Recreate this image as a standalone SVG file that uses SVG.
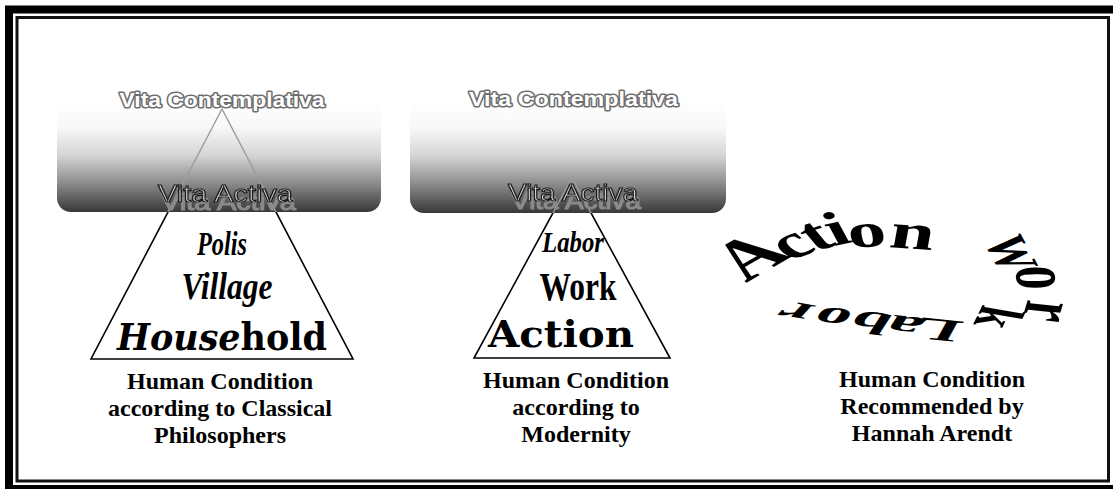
<svg xmlns="http://www.w3.org/2000/svg" width="1113" height="489" viewBox="0 0 1113 489">
<style>
.cap{font-family:"Liberation Serif","Times New Roman",serif;font-weight:bold;font-size:24px;fill:#000;text-anchor:middle}
.vc{font-family:"Liberation Sans",Arial,sans-serif;font-weight:bold;font-size:21px;fill:#fff;stroke:#6e6e6e;stroke-width:3;paint-order:stroke;stroke-linejoin:round;text-anchor:middle}
.va{font-family:"Liberation Sans",Arial,sans-serif;font-size:24px;fill:#dcdcdc;stroke:#1e1e1e;stroke-width:1.2;text-anchor:middle;filter:url(#sh)}
.tri{fill:none;stroke:#000;stroke-width:1.6;stroke-linejoin:miter}
.triin{fill:none;stroke:#9c9c9c;stroke-width:1.4}
.cond{font-family:"Liberation Serif","Times New Roman",serif;font-weight:bold;fill:#000;text-anchor:middle}
.wide{font-family:"DejaVu Serif",serif;font-weight:bold;fill:#000;text-anchor:middle}
.circ{font-family:"Liberation Serif","Times New Roman",serif;font-weight:bold;fill:#000}
.box{fill:url(#shade)}
</style>
<defs>
<linearGradient id="shade" x1="0" y1="0" x2="0" y2="1">
<stop offset="0" stop-color="#ffffff"/>
<stop offset="0.25" stop-color="#f8f8f8"/>
<stop offset="0.5" stop-color="#d4d4d4"/>
<stop offset="0.75" stop-color="#8a8a8a"/>
<stop offset="1" stop-color="#383838"/>
</linearGradient>
<filter id="sh" x="-10%" y="-30%" width="130%" height="200%">
<feOffset in="SourceAlpha" dx="3" dy="8" result="o"/>
<feFlood flood-color="#8a8a8a"/>
<feComposite in2="o" operator="in" result="s"/>
<feMerge><feMergeNode in="s"/><feMergeNode in="SourceGraphic"/></feMerge>
</filter>
<clipPath id="clipL"><rect x="57" y="99" width="324" height="113" rx="14"/></clipPath>
<clipPath id="clipM"><rect x="410" y="99" width="316" height="114" rx="14"/></clipPath>
</defs>
<rect width="1113" height="489" fill="#fff"/>
<g id="frame">
<rect x="9" y="9.5" width="1108" height="479.5" fill="none" stroke="#000" stroke-width="8"/>
<rect x="17" y="17.5" width="1091.5" height="463.5" fill="none" stroke="#111" stroke-width="3"/>
</g>
<g id="classical">
<polygon class="tri" points="222,109 91,359 353,359"/>
<rect class="box" x="57" y="99" width="324" height="113" rx="14"/>
<polyline class="triin" points="91,359 222,109 353,359" clip-path="url(#clipL)"/>
<text class="vc" x="222" y="107" textLength="205" lengthAdjust="spacingAndGlyphs">Vita Contemplativa</text>
<text class="va" x="225.5" y="202" textLength="135" lengthAdjust="spacingAndGlyphs">Vita Activa</text>
<text class="cond" x="222" y="255" font-size="33" font-style="italic" textLength="50" lengthAdjust="spacingAndGlyphs">Polis</text>
<text class="cond" x="227" y="299" font-size="38" font-style="italic" textLength="91" lengthAdjust="spacingAndGlyphs">Village</text>
<text class="wide" x="222" y="350" font-size="38" textLength="210" lengthAdjust="spacingAndGlyphs"><tspan font-style="italic">House</tspan>hold</text>
<text class="cap" x="220" y="389">Human Condition</text>
<text class="cap" x="220" y="416">according to Classical</text>
<text class="cap" x="220" y="443">Philosophers</text>
</g>
<g id="modernity">
<polygon class="tri" points="572,178 474,358 670,358"/>
<rect class="box" x="410" y="99" width="316" height="114" rx="14"/>
<polyline class="triin" points="474,358 572,178 670,358" clip-path="url(#clipM)"/>
<text class="vc" x="573.5" y="106" textLength="209" lengthAdjust="spacingAndGlyphs">Vita Contemplativa</text>
<text class="va" x="573" y="201" textLength="130" lengthAdjust="spacingAndGlyphs">Vita Activa</text>
<text class="cond" x="573" y="252" font-size="30" font-style="italic" textLength="62" lengthAdjust="spacingAndGlyphs">Labor</text>
<text class="cond" x="578" y="300" font-size="40" textLength="77" lengthAdjust="spacingAndGlyphs">Work</text>
<text class="wide" x="561" y="347" font-size="37" textLength="146" lengthAdjust="spacingAndGlyphs">Action</text>
<text class="cap" x="576" y="388">Human Condition</text>
<text class="cap" x="576" y="415">according to</text>
<text class="cap" x="576" y="442">Modernity</text>
</g>
<g id="arendt">
<text class="circ" transform="scale(1.6,1)" font-size="48"><tspan x="466.3" y="283" rotate="-42.7" font-size="56">A</tspan><tspan x="494.4" y="262" rotate="-36.7">c</tspan><tspan x="509.4" y="252" rotate="-27.5">t</tspan><tspan x="521.3" y="246" rotate="-18.8">i</tspan><tspan x="531.3" y="248" rotate="-6.4">o</tspan><tspan x="555" y="247" rotate="6.4" font-size="50">n</tspan></text>
<text class="circ" transform="scale(1.7,1)"><tspan x="578.2" y="240" rotate="72" font-size="35">W</tspan><tspan x="597.6" y="266" rotate="88" font-size="48">o</tspan><tspan x="604.7" y="299" rotate="100" font-size="46">r</tspan><tspan x="578.2" y="304" rotate="106" font-size="38">k</tspan></text>
<text class="circ" transform="scale(2.3,1)" font-size="31"><tspan x="419.6" y="322" rotate="193.5">L</tspan><tspan x="403.5" y="319" rotate="195.8">a</tspan><tspan x="389.6" y="315" rotate="195.8">b</tspan><tspan x="372.2" y="311" rotate="197.9">o</tspan><tspan x="355.7" y="306" rotate="202">r</tspan></text>
<text class="cap" x="932" y="387">Human Condition</text>
<text class="cap" x="932" y="414">Recommended by</text>
<text class="cap" x="932" y="441">Hannah Arendt</text>
</g>
</svg>
